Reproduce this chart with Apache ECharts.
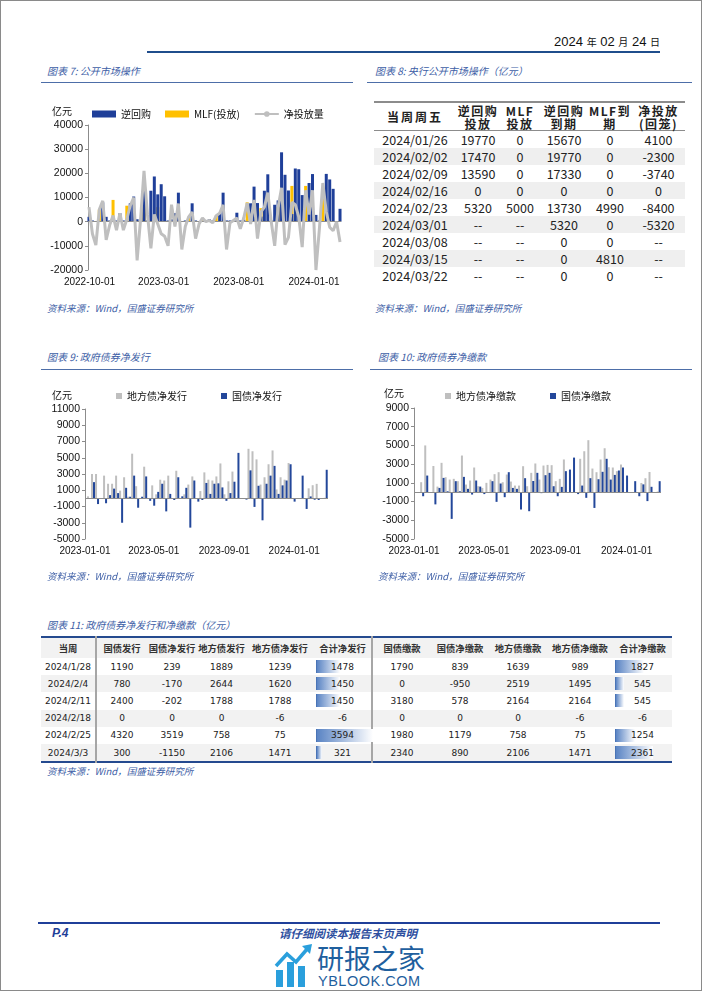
<!DOCTYPE html>
<html><head><meta charset="utf-8">
<script src="https://cdn.jsdelivr.net/npm/echarts@6/dist/echarts.min.js"></script>
<style>
html,body{margin:0;padding:0;background:#fff;}
body{width:702px;height:991px;position:relative;overflow:hidden;font-family:"Noto Sans CJK SC","Liberation Sans",sans-serif;color:#111;}
.frame{position:absolute;left:0;top:0;width:700px;height:989px;border:1px solid #8a8a8a;}
.ttl,.src{position:absolute;font-style:italic;color:#3d5ea6;white-space:nowrap;line-height:12px;}
.ttl{font-size:10px;}
.src{font-size:9.5px;}
.hl{position:absolute;height:0;border-top:1px solid #4d6ea8;}
.chart{position:absolute;}
table{border-collapse:collapse;table-layout:fixed;position:absolute;}
#t8{left:374px;top:101px;width:311px;border-top:2px solid #8c8c8c;}
#t8 th{height:27px;padding:0;font-size:12px;font-weight:bold;line-height:13px;letter-spacing:1.5px;border-bottom:1px solid #8c8c8c;color:#222;}
#t8 td{height:17px;padding:0;font-size:12.5px;line-height:17px;text-align:center;color:#222;}
#t8 tbody tr:nth-child(even) td{background:#efefef;}
#t11{left:41px;top:636px;width:631px;border-top:2px solid #254a8f;border-bottom:2px solid #254a8f;}
#t11 th{height:20px;padding:0;font-size:9.3px;font-weight:bold;color:#333;background:#f2f2f2;white-space:nowrap;}
#t11 td{height:17.2px;padding:0;font-size:9px;font-family:"DejaVu Sans",sans-serif;text-align:center;color:#222;position:relative;white-space:nowrap;}
#t11 tbody tr:nth-child(even) td{background:#f2f2f2;}
#t11 .sep{border-left:2px solid #a6a6a6;}
.dbar{position:absolute;left:2px;top:2px;height:13px;background:linear-gradient(to right,#5a84c4,#ffffff);border-left:1px solid #4a74b6;}
.dval{position:relative;z-index:1;}
</style></head>
<body>
<div class="frame"></div>

<!-- header -->
<div style="position:absolute;left:540px;top:34px;width:120px;text-align:right;white-space:nowrap;font-family:'Liberation Sans',sans-serif;font-size:13px;color:#111;line-height:16px;">2024 <span style="font-size:10px;font-family:'Noto Sans CJK SC'">年</span> 02 <span style="font-size:10px;font-family:'Noto Sans CJK SC'">月</span> 24 <span style="font-size:10px;font-family:'Noto Sans CJK SC'">日</span></div>
<div style="position:absolute;left:147px;top:51px;width:513px;height:2px;background:#1f4d8c;"></div>

<!-- section 7 / 8 titles -->
<div class="ttl" style="left:47px;top:65px;">图表 7:  公开市场操作</div>
<div class="hl" style="left:41px;top:82px;width:312px;"></div>
<div class="ttl" style="left:375px;top:65px;">图表 8:  央行公开市场操作（亿元）</div>
<div class="hl" style="left:367px;top:82px;width:325px;"></div>
<div id="c7" class="chart" style="left:41px;top:88px;width:312px;height:207px;"></div>
<table id="t8"><colgroup><col style="width:82px"><col style="width:44px"><col style="width:40px"><col style="width:48px"><col style="width:44px"><col style="width:53px"></colgroup><thead></thead><tbody></tbody></table>
<div class="src" style="left:47px;top:302px;">资料来源：Wind，国盛证券研究所</div>
<div class="src" style="left:375px;top:302px;">资料来源：Wind，国盛证券研究所</div>

<!-- section 9 / 10 -->
<div class="ttl" style="left:47px;top:351px;">图表 9:  政府债券净发行</div>
<div class="hl" style="left:41px;top:369px;width:312px;"></div>
<div class="ttl" style="left:378px;top:351px;">图表 10:  政府债券净缴款</div>
<div class="hl" style="left:370px;top:369px;width:322px;"></div>
<div id="c9" class="chart" style="left:41px;top:380px;width:312px;height:190px;"></div>
<div id="c10" class="chart" style="left:370px;top:380px;width:322px;height:190px;"></div>
<div class="src" style="left:47px;top:570px;">资料来源：Wind，国盛证券研究所</div>
<div class="src" style="left:378px;top:570px;">资料来源：Wind，国盛证券研究所</div>

<!-- section 11 -->
<div class="ttl" style="left:47px;top:619px;">图表 11:  政府债券净发行和净缴款（亿元）</div>
<table id="t11"><colgroup><col style="width:55px"><col style="width:51px"><col style="width:50px"><col style="width:49px"><col style="width:68px"><col style="width:58px"><col style="width:59px"><col style="width:58px"><col style="width:58px"><col style="width:66px"><col style="width:59px"></colgroup><thead></thead><tbody></tbody></table>
<div class="src" style="left:47px;top:765px;">资料来源：Wind，国盛证券研究所</div>

<!-- footer -->
<div style="position:absolute;left:38px;top:922px;width:622px;height:2px;background:#1f3f99;"></div>
<div style="position:absolute;left:52px;top:927px;line-height:13px;font-family:'Liberation Sans',sans-serif;font-weight:bold;font-style:italic;font-size:12px;color:#1f3f99;">P.4</div>
<div style="position:absolute;left:250px;top:927px;line-height:13px;width:196px;text-align:center;font-style:italic;font-weight:bold;font-size:11.5px;color:#2e4fa0;white-space:nowrap;">请仔细阅读本报告末页声明</div>
<svg style="position:absolute;left:274px;top:944px;" width="40" height="44" viewBox="0 0 40 44">
  <rect x="2" y="26" width="7" height="17" fill="#2a9fdc"/>
  <rect x="13" y="18" width="7" height="25" fill="#2a9fdc"/>
  <rect x="24" y="22" width="7" height="21" fill="#2a9fdc"/>
  <polyline points="2,22 13,10 22,18 34,4" fill="none" stroke="#2a9fdc" stroke-width="3.5"/>
  <polygon points="28,2 38,0 36,10" fill="#2a9fdc"/>
</svg>
<div style="position:absolute;left:317px;top:944px;font-size:27px;line-height:28px;color:#1f5f9e;white-space:nowrap;">研报之家</div>
<div style="position:absolute;left:318px;top:974px;font-family:'Liberation Sans',sans-serif;font-size:14.5px;line-height:15px;letter-spacing:0.5px;color:#1f5f9e;white-space:nowrap;">YBLOOK.COM</div>

<script>
// ---------- chart 7 data: weekly (Fridays) from 2022-09-30 ----------
const opStart = [2022, 9, 30];
const opWeeks = 74;
const repo7 = [2000,500,0,0,8000,2000,500,0,500,3500,
  500,0,7600,10400,1000,500,14000,500,12800,18700,
  11300,15500,10500,500,1000,3500,12000,0,500,0,
  7600,500,0,0,500,1000,500,0,3500,12000,
  500,500,500,3700,500,800,0,7600,14500,7700,
  2100,12800,19600,500,7000,8800,28700,19400,12900,3200,
  22000,21700,11000,0,16000,19700,2800,500,0,19770,
  17470,13590,0,5320];
const mlf7 = [0,0,0,5000,0,0,0,9000,0,0,
  0,6600,0,0,0,0,8000,0,0,0,
  6000,0,0,0,0,0,0,0,0,2000,
  0,0,0,1500,0,0,0,2500,0,0,
  0,0,0,0,0,0,8000,0,0,0,
  5600,0,0,0,0,6000,0,0,0,14800,
  0,0,0,14800,0,0,0,0,9800,0,
  0,0,0,0];
const net7 = [6000,-5000,-9700,5000,8600,-7500,-1500,2500,-3500,3500,
  -3500,1000,6600,10000,-16000,1000,21000,3000,-11000,3000,
  -1000,-5000,-6000,-10000,7000,-2000,7500,-11500,-2000,2000,
  4000,-7000,-1000,1500,0,500,-500,2500,3500,7000,
  -11500,-500,500,1500,-3000,1500,7700,-1000,9000,-7000,
  4000,6000,12000,0,-10000,6000,14000,-9500,-6500,8000,
  7000,2000,-10500,13000,3000,13000,-20000,-3000,16000,4100,
  -2300,-3740,0,-8400];
const ticks7 = ['2022-10-01','2023-03-01','2023-08-01','2024-01-01'];

// ---------- chart 9 / 10 data: weekly (Sundays) from 2023-01-08 ----------
const bondStart = [2023, 1, 8];
const bondWeeks = 60;
const local9 = [250,3000,3000,0,2800,1800,1800,2800,950,2600,
  200,5500,1500,0,3900,0,1600,500,2300,2200,
  2800,0,3400,0,500,1700,2700,0,900,3200,
  2300,2200,2700,4300,500,2100,3300,0,0,0,
  6100,5800,4800,1700,2600,4200,5900,1100,2600,2300,
  4350,0,0,0,0,1239,1620,1788,-6,75];
const nat9 = [0,2000,-700,0,-600,400,1200,650,-3000,1300,
  200,2800,-1150,200,2700,-300,-900,800,1800,-1600,
  550,-200,2600,250,1300,-3600,2200,-400,-200,1900,
  550,1800,1850,1350,-300,650,2050,5600,0,-150,
  3450,-1050,1550,-2700,1800,2800,4000,550,1600,2200,
  4200,-400,0,2800,-1300,239,-170,-202,0,3519];
const local10 = [0,1070,5000,0,2800,600,3140,1600,1350,1430,
  1180,3920,820,1250,2640,640,460,1000,1350,1930,
  2140,1070,1890,1140,710,710,2780,640,2070,3070,
  1350,2850,2920,2890,1180,1430,3500,0,0,0,
  3570,4380,5560,2530,2140,3500,4700,2670,2640,2250,
  2960,0,0,0,0,989,1495,2164,-6,75];
const nat10 = [0,-430,1780,0,-1300,460,1530,100,-2850,1180,
  100,1640,360,-250,1250,600,-200,0,1180,-1030,
  930,-530,2140,460,360,-1850,1500,-2030,1200,2070,
  -100,1820,2070,640,-430,570,2250,2420,3700,-200,
  710,-600,1500,-1680,1390,2180,3570,1350,1850,2320,
  2640,1780,0,1180,-430,839,-950,578,0,1179];
const ticksBond = ['2023-01-01','2023-05-01','2023-09-01','2024-01-01'];
const yTicks9 = [-5000,-3000,-1000,1000,3000,5000,7000,9000,11000];
const yTicks10 = [-5000,-3000,-1000,1000,3000,5000,7000,9000];

// ---------- table 8 ----------
const t8Head = ['当周周五','逆回购<br>投放','MLF<br>投放','逆回购<br>到期','MLF到<br>期','净投放<br>(回笼)'];
const t8Dates = ['2024/01/26','2024/02/02','2024/02/09','2024/02/16','2024/02/23','2024/03/01','2024/03/08','2024/03/15','2024/03/22'];
const t8RepoIn = ['19770','17470','13590','0','5320','--','--','--','--'];
const t8MlfIn = ['0','0','0','0','5000','--','--','--','--'];
const t8RepoDue = ['15670','19770','17330','0','13730','5320','0','0','0'];
const t8MlfDue = ['0','0','0','0','4990','0','0','4810','0'];
const t8Net = ['4100','-2300','-3740','0','-8400','-5320','--','--','--'];

// ---------- table 11 ----------
const t11Head = ['当周','国债发行','国债净发行','地方债发行','地方债净发行','合计净发行','国债缴款','国债净缴款','地方债缴款','地方债净缴款','合计净缴款'];
const t11Weeks = ['2024/1/28','2024/2/4','2024/2/11','2024/2/18','2024/2/25','2024/3/3'];
const natIssue = [1190,780,2400,0,4320,300];
const natNetIssue = [239,-170,-202,0,3519,-1150];
const locIssue = [1889,2644,1788,0,758,2106];
const locNetIssue = [1239,1620,1788,-6,75,1471];
const totNetIssue = [1478,1450,1450,-6,3594,321];
const natPay = [1790,0,3180,0,1980,2340];
const natNetPay = [839,-950,578,0,1179,890];
const locPay = [1639,2519,2164,0,758,2106];
const locNetPay = [989,1495,2164,-6,75,1471];
const totNetPay = [1827,545,545,-6,1254,2361];

// ---------- helpers ----------
function pad(n){return (n<10?'0':'')+n;}
function weekly(start, n){
  const out=[];
  for(let i=0;i<n;i++){const d=new Date(start[0],start[1]-1,start[2]+7*i);out.push(d.getFullYear()+'-'+pad(d.getMonth()+1)+'-'+pad(d.getDate()));}
  return out;
}
function ts(s){const p=s.split('-').map(Number);return new Date(p[0],p[1]-1,p[2]).getTime();}
function fmtDate(v){const d=new Date(v);return d.getFullYear()+'-'+pad(d.getMonth()+1)+'-'+pad(d.getDate());}
function plain(v){return String(v);}
function pairs(dates, arr){return dates.map((d,i)=>[ts(d),arr[i]]);}
const FONT = '"Liberation Sans","Noto Sans CJK SC",sans-serif';
const CJK = '"Noto Sans CJK SC",sans-serif';
const zeroLine = {silent:true,symbol:['none','none'],label:{show:false},lineStyle:{color:'#8c8c8c',type:'solid',width:1},data:[{yAxis:0}],animation:false};

// ---------- table 8 build ----------
(function(){
  const t=document.getElementById('t8');
  t.tHead.innerHTML='<tr>'+t8Head.map((h,i)=>'<th'+(i===0?' style="letter-spacing:2px"':'')+'>'+h+'</th>').join('')+'</tr>';
  let b='';
  for(let i=0;i<t8Dates.length;i++){
    b+='<tr>'+[t8Dates[i],t8RepoIn[i],t8MlfIn[i],t8RepoDue[i],t8MlfDue[i],t8Net[i]].map(v=>'<td>'+v+'</td>').join('')+'</tr>';
  }
  t.tBodies[0].innerHTML=b;
})();

// ---------- table 11 build ----------
(function(){
  const t=document.getElementById('t11');
  const barScale=0.0155;
  t.tHead.innerHTML='<tr>'+t11Head.map((h,i)=>'<th'+(i===1||i===6?' class="sep"':'')+'>'+h+'</th>').join('')+'</tr>';
  function barCell(v){
    const w=v>0?v*barScale:0;
    return '<td>'+(w>0?'<div class="dbar" style="width:'+w.toFixed(1)+'px"></div>':'')+'<span class="dval">'+v+'</span></td>';
  }
  let b='';
  for(let i=0;i<t11Weeks.length;i++){
    b+='<tr><td>'+t11Weeks[i]+'</td>'+
      '<td class="sep">'+natIssue[i]+'</td><td>'+natNetIssue[i]+'</td><td>'+locIssue[i]+'</td><td>'+locNetIssue[i]+'</td>'+
      barCell(totNetIssue[i])+
      '<td class="sep">'+natPay[i]+'</td><td>'+natNetPay[i]+'</td><td>'+locPay[i]+'</td><td>'+locNetPay[i]+'</td>'+
      barCell(totNetPay[i])+'</tr>';
  }
  t.tBodies[0].innerHTML=b;
})();

// ---------- chart 7 ----------
const d7 = weekly(opStart, opWeeks);
const c7 = echarts.init(document.getElementById('c7'));
c7.setOption({
  animation:false,
  grid:{left:47,right:12,top:37,height:145},
  legend:{left:46,top:16,itemWidth:24,itemHeight:7,itemGap:14,
    textStyle:{fontSize:10,fontFamily:CJK,color:'#111'},
    data:[{name:'逆回购',icon:'rect'},{name:'MLF(投放)',icon:'rect'},{name:'净投放量'}]},
  graphic:[{type:'text',left:11,top:18,style:{text:'亿元',fontSize:10,fontFamily:CJK,fill:'#111'}}],
  xAxis:{type:'value',min:ts('2022-09-28'),max:ts('2024-02-25'),
    axisLine:{show:false},axisTick:{show:false},splitLine:{show:false},
    axisLabel:{customValues:ticks7.map(ts),formatter:fmtDate,fontSize:10,fontFamily:FONT,color:'#111',margin:7,hideOverlap:false}},
  yAxis:{type:'value',min:-20000,max:40000,interval:10000,
    axisLine:{show:true,lineStyle:{color:'#8c8c8c'}},axisTick:{show:true,length:3,lineStyle:{color:'#8c8c8c'}},
    splitLine:{show:false},axisLabel:{formatter:plain,fontSize:10.5,fontFamily:FONT,color:'#111',margin:5}},
  series:[
    {name:'MLF(投放)',type:'bar',stack:'op',barWidth:3,data:pairs(d7,mlf7),itemStyle:{color:'#FFC000'}},
    {name:'逆回购',type:'bar',stack:'op',barWidth:3,data:pairs(d7,repo7),itemStyle:{color:'#1F3F99'},markLine:zeroLine},
    {name:'净投放量',type:'line',data:pairs(d7,net7),symbol:'none',z:5,lineStyle:{color:'#BFBFBF',width:3},itemStyle:{color:'#BFBFBF'}}
  ]
});

// ---------- charts 9 / 10 ----------
const dB = weekly(bondStart, bondWeeks);
function bondChart(id, names, gray, blue, yMin, yMax, yTicks, gridW, gridTop, gridH, unitLeft, unitTop){
  const ch = echarts.init(document.getElementById(id));
  ch.setOption({
    animation:false,
    grid:{left:44,width:gridW,top:gridTop,height:gridH},
    legend:{left:70,top:6,itemWidth:6,itemHeight:6,itemGap:34,icon:'rect',
      textStyle:{fontSize:10,fontFamily:CJK,color:'#111'},data:names},
    graphic:[{type:'text',left:unitLeft,top:unitTop,style:{text:'亿元',fontSize:10,fontFamily:CJK,fill:'#111'}}],
    xAxis:{type:'value',min:ts('2023-01-01'),max:ts('2024-02-29'),
      axisLine:{show:false},axisTick:{show:false},splitLine:{show:false},
      axisLabel:{customValues:ticksBond.map(ts),formatter:fmtDate,fontSize:10,fontFamily:FONT,color:'#111',margin:7,hideOverlap:false}},
    yAxis:{type:'value',min:yMin,max:yMax,interval:2000,
      axisLine:{show:true,lineStyle:{color:'#8c8c8c'}},axisTick:{show:true,length:3,customValues:yTicks,lineStyle:{color:'#8c8c8c'}},
      splitLine:{show:false},axisLabel:{customValues:yTicks,formatter:plain,fontSize:10.5,fontFamily:FONT,color:'#111',margin:5}},
    series:[
      {name:names[0],type:'bar',barWidth:2,barGap:'0%',data:pairs(dB,gray),itemStyle:{color:'#BFBFBF'}},
      {name:names[1],type:'bar',barWidth:2,barGap:'0%',data:pairs(dB,blue),itemStyle:{color:'#23479A'},markLine:zeroLine}
    ]
  });
}
bondChart('c9',['地方债净发行','国债净发行'],local9,nat9,-5000,11000,yTicks9,243,29,130,11,10);
bondChart('c10',['地方债净缴款','国债净缴款'],local10,nat10,-5000,9000,yTicks10,247,28,131,14,8);
</script>
</body></html>
